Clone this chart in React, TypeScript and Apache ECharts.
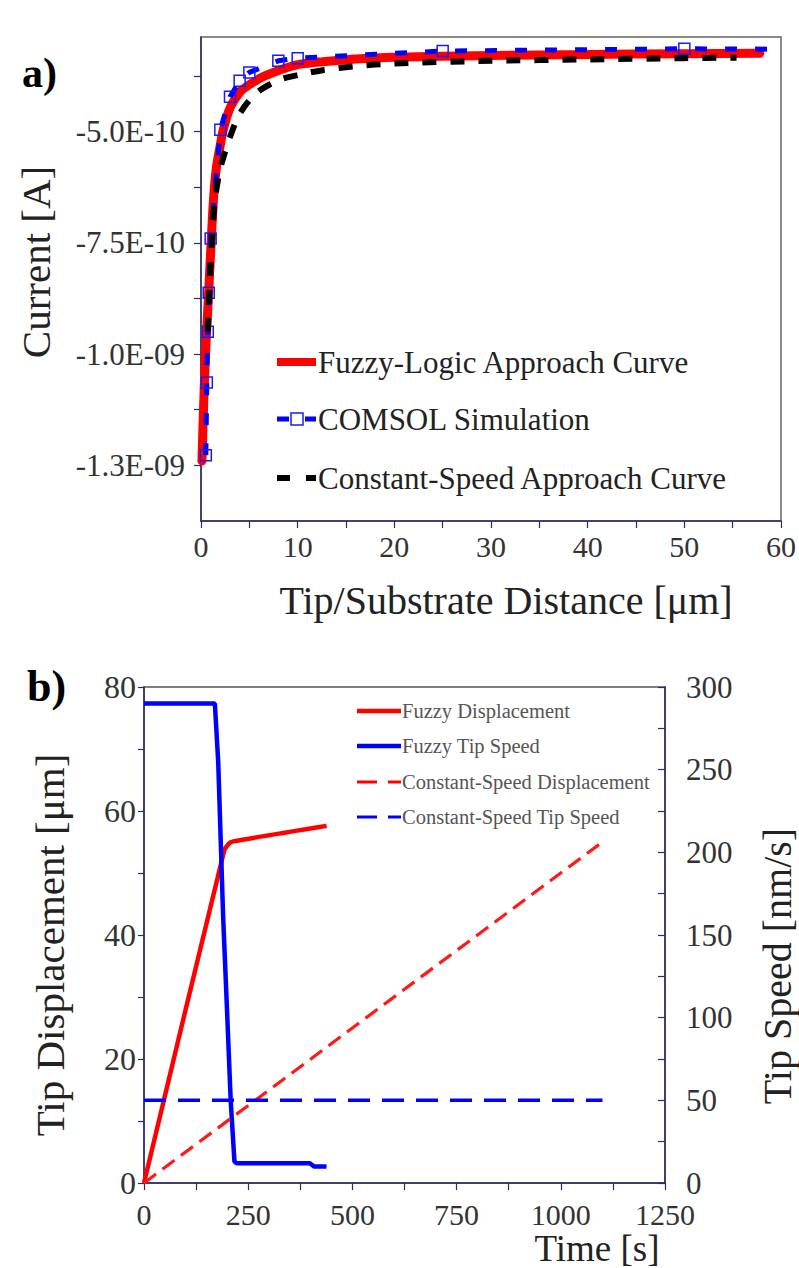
import React, { useEffect, useRef } from 'react';
import * as echarts from 'echarts';

// ---------- Panel a) data ----------
const fuzzyDist = [0.1, 0.25, 0.41, 0.6, 0.75, 1.0, 1.3, 1.6, 2.0, 2.3, 3.0, 4.0, 4.7, 6.4, 8.1, 9.9, 12.6, 16, 20, 30, 40, 50, 57.8];
const fuzzyCurrent = [-12.4e-10, -11.3e-10, -10.3e-10, -9.4e-10, -8.8e-10, -7.7e-10, -6.5e-10, -5.8e-10, -5.3e-10, -4.96e-10, -4.47e-10, -4.12e-10, -3.99e-10, -3.77e-10, -3.62e-10, -3.5e-10, -3.43e-10, -3.37e-10, -3.33e-10, -3.29e-10, -3.27e-10, -3.25e-10, -3.24e-10];

const comsolDist = [0.5, 0.6, 0.7, 0.8, 1.0, 2, 3, 4, 5, 8, 10, 25, 50];
const comsolCurrent = [-12.27e-10, -10.64e-10, -9.5e-10, -8.62e-10, -7.4e-10, -4.96e-10, -4.22e-10, -3.86e-10, -3.67e-10, -3.41e-10, -3.35e-10, -3.19e-10, -3.14e-10];
const comsolTailDist = 61;
const comsolTailCurrent = -3.15e-10;

const constDist = [0.7, 0.85, 1.0, 1.2, 1.44, 1.96, 2.5, 3.0, 4.0, 5.7, 8.1, 10.9, 12.6, 16, 20, 30, 40, 50, 55.4];
const constCurrent = [-9.5e-10, -8.7e-10, -8.0e-10, -7.2e-10, -6.54e-10, -5.86e-10, -5.45e-10, -5.12e-10, -4.6e-10, -4.14e-10, -3.84e-10, -3.69e-10, -3.62e-10, -3.53e-10, -3.47e-10, -3.41e-10, -3.38e-10, -3.35e-10, -3.34e-10];

const topYTickValues = [-3.75e-10, -5e-10, -6.25e-10, -7.5e-10, -8.75e-10, -1e-9, -1.125e-9, -1.25e-9];
const topYLabelValues = [-5e-10, -7.5e-10, -1e-9, -1.25e-9];
const topYLabelTexts = ['-5.0E-10', '-7.5E-10', '-1.0E-09', '-1.3E-09'];

const topLegend = ['Fuzzy-Logic Approach Curve', 'COMSOL Simulation', 'Constant-Speed Approach Curve'];

// ---------- Panel b) data ----------
const fuzzyDispTime = [0, 192, 203, 214, 438];
const fuzzyDisp = [0, 53.5, 54.7, 55.1, 57.6];

const fuzzySpeedTime = [0, 170, 178, 190, 198, 208, 217, 222, 398, 408, 438];
const fuzzySpeed = [290, 290, 255, 160, 112, 50, 13, 12, 12, 10, 10];

const constDispTime = [0, 1100];
const constDisp = [0, 55];

const constSpeedTime = [0, 1100];
const constSpeed = [50, 50];

const bottomLegend = ['Fuzzy Displacement', 'Fuzzy Tip Speed', 'Constant-Speed Displacement', 'Constant-Speed Tip Speed'];

const FONT = "'Liberation Serif', 'Times New Roman', serif";
const NAVY = '#2b2b6b';
const TXT = '#333';
const RED = '#ff0000';
const BLUE = '#0000ff';

const zip = (a: number[], b: number[]) => a.map((x, i) => [x, b[i]]);

export default function App() {
  const ref = useRef<HTMLDivElement>(null);

  useEffect(() => {
    if (!ref.current) return;
    const chart = echarts.init(ref.current, null, { renderer: 'svg' });

    const axisCommon = (color: string) => ({
      axisLine: { show: true, onZero: false, lineStyle: { color, width: 1.5 } },
      splitLine: { show: false },
    });
    const tick = (len: number, inside = false) => ({ show: true, inside, length: len, lineStyle: { color: NAVY, width: 1.2 } });
    const minor = (len: number) => ({ show: true, splitNumber: 2, length: len, lineStyle: { color: NAVY, width: 1.2 } });

    // manual legends
    const seg = (x1: number, x2: number, y: number, color: string, width: number) => ({
      type: 'line', silent: true, shape: { x1, y1: y, x2, y2: y }, style: { stroke: color, lineWidth: width },
    });
    const legText = (x: number, y: number, text: string, size: number, color: string) => ({
      type: 'text', x, y, style: { text, font: `${size}px ${FONT}`, fill: color, verticalAlign: 'middle', align: 'left' },
    });
    const ty = [362, 419, 478];
    const by = [711, 746, 782, 817];
    const legendGraphics = [
      seg(277, 316, ty[0], RED, 8),
      legText(318, ty[0], topLegend[0], 31, '#222'),
      seg(277, 289, ty[1], BLUE, 5),
      { type: 'rect', silent: true, shape: { x: 291, y: ty[1] - 6, width: 12, height: 12 }, style: { fill: '#fff', stroke: '#1a1aff', lineWidth: 1.5 } },
      seg(305, 316, ty[1], BLUE, 5),
      legText(318, ty[1], topLegend[1], 31, '#222'),
      seg(277, 290, ty[2], '#000', 6),
      seg(306, 316, ty[2], '#000', 6),
      legText(318, ty[2], topLegend[2], 31, '#222'),
      seg(357, 401, by[0], RED, 4.5),
      legText(402, by[0], bottomLegend[0], 20.5, '#555'),
      seg(357, 401, by[1], BLUE, 4.5),
      legText(402, by[1], bottomLegend[1], 20.5, '#555'),
      seg(357, 377, by[2], RED, 3),
      seg(388, 401, by[2], RED, 3),
      legText(402, by[2], bottomLegend[2], 20.5, '#555'),
      seg(357, 377, by[3], BLUE, 3),
      seg(388, 401, by[3], BLUE, 3),
      legText(402, by[3], bottomLegend[3], 20.5, '#555'),
    ];

    const option: any = {
      animation: false,
      backgroundColor: '#ffffff',
      grid: [
        { left: 201, top: 37, width: 581, height: 484, show: true, borderColor: '#666', borderWidth: 1.5, backgroundColor: 'transparent' },
        { left: 144, top: 687, width: 521, height: 496, show: true, borderColor: '#555', borderWidth: 1.5, backgroundColor: 'transparent' },
      ],
      xAxis: [
        {
          gridIndex: 0, type: 'value', min: 0, max: 60, interval: 10,
          ...axisCommon(NAVY),
          axisTick: tick(7), minorTick: minor(7),
          axisLabel: { fontFamily: FONT, fontSize: 30, color: TXT, margin: 10 },
        },
        {
          gridIndex: 1, type: 'value', min: 0, max: 1250, interval: 250,
          ...axisCommon(NAVY),
          axisTick: tick(7), minorTick: minor(7),
          axisLabel: { fontFamily: FONT, fontSize: 30, color: TXT, margin: 16, formatter: (v: number) => String(v) },
        },
      ],
      yAxis: [
        {
          gridIndex: 0, type: 'value', min: -1.375e-9, max: -2.875e-10,
          ...axisCommon(NAVY),
          axisTick: { ...tick(7), customValues: topYTickValues },
          axisLabel: {
            fontFamily: FONT, fontSize: 31, color: TXT, margin: 16,
            customValues: topYLabelValues,
            formatter: (v: number) => {
              const i = topYLabelValues.findIndex((t) => Math.abs(t - v) < 1e-13);
              return i >= 0 ? topYLabelTexts[i] : '';
            },
          },
        },
        {
          gridIndex: 1, type: 'value', min: 0, max: 80, interval: 20, position: 'left',
          ...axisCommon(NAVY),
          axisTick: tick(6), minorTick: minor(6),
          axisLabel: { fontFamily: FONT, fontSize: 32, color: TXT, margin: 8 },
        },
        {
          gridIndex: 1, type: 'value', min: 0, max: 300, interval: 50, position: 'right',
          ...axisCommon(NAVY),
          axisTick: tick(7, true), minorTick: minor(7),
          axisLabel: { fontFamily: FONT, fontSize: 31, color: TXT, margin: 21 },
        },
      ],
      series: [
        {
          name: topLegend[0], type: 'line', xAxisIndex: 0, yAxisIndex: 0,
          data: zip(fuzzyDist, fuzzyCurrent), smooth: 0.3, symbol: 'none', z: 2,
          lineStyle: { color: RED, width: 9, cap: 'round' },
        },
        {
          name: topLegend[1], type: 'line', xAxisIndex: 0, yAxisIndex: 0,
          data: [
            ...zip(comsolDist, comsolCurrent),
            { value: [comsolTailDist, comsolTailCurrent], symbol: 'none' },
          ],
          clip: false, z: 3,
          symbol: 'rect', symbolSize: 11, showSymbol: true,
          lineStyle: { color: BLUE, width: 5, type: [12, 18] },
          itemStyle: { color: 'rgba(255,255,255,0)', borderColor: '#1a1aff', borderWidth: 1.5 },
        },
        {
          name: topLegend[2], type: 'line', xAxisIndex: 0, yAxisIndex: 0,
          data: zip(constDist, constCurrent), smooth: 0.3, symbol: 'none', z: 4,
          lineStyle: { color: '#000000', width: 6, type: [14, 14] },
        },
        {
          name: bottomLegend[0], type: 'line', xAxisIndex: 1, yAxisIndex: 1,
          data: zip(fuzzyDispTime, fuzzyDisp), symbol: 'none', smooth: 0.2,
          lineStyle: { color: RED, width: 4.5 },
        },
        {
          name: bottomLegend[1], type: 'line', xAxisIndex: 1, yAxisIndex: 2,
          data: zip(fuzzySpeedTime, fuzzySpeed), symbol: 'none',
          lineStyle: { color: BLUE, width: 4.5 },
        },
        {
          name: bottomLegend[2], type: 'line', xAxisIndex: 1, yAxisIndex: 1,
          data: zip(constDispTime, constDisp), symbol: 'none',
          lineStyle: { color: '#ff1a1a', width: 3.2, type: [15, 8] },
        },
        {
          name: bottomLegend[3], type: 'line', xAxisIndex: 1, yAxisIndex: 2,
          data: zip(constSpeedTime, constSpeed), symbol: 'none',
          lineStyle: { color: BLUE, width: 3.5, type: [22, 12] },
        },
      ],
      graphic: [
        { type: 'text', left: 22, top: 52, style: { text: 'a)', font: `bold 42px ${FONT}`, fill: '#000' } },
        { type: 'text', x: 36, y: 262, rotation: Math.PI / 2, style: { text: 'Current [A]', font: `41px ${FONT}`, fill: '#222', align: 'center', verticalAlign: 'middle' } },
        { type: 'text', x: 506, y: 600, style: { text: 'Tip/Substrate Distance [μm]', font: `40px ${FONT}`, fill: '#222', align: 'center', verticalAlign: 'middle' } },
        { type: 'text', left: 27, top: 664, style: { text: 'b)', font: `bold 44px ${FONT}`, fill: '#000' } },
        { type: 'text', x: 50, y: 945, rotation: Math.PI / 2, style: { text: 'Tip Displacement [μm]', font: `41px ${FONT}`, fill: '#222', align: 'center', verticalAlign: 'middle' } },
        { type: 'text', x: 777, y: 966, rotation: Math.PI / 2, style: { text: 'Tip Speed [nm/s]', font: `40px ${FONT}`, fill: '#222', align: 'center', verticalAlign: 'middle' } },
        { type: 'text', x: 597, y: 1248, style: { text: 'Time [s]', font: `37px ${FONT}`, fill: '#222', align: 'center', verticalAlign: 'middle' } },
        ...legendGraphics,
      ],
    };

    chart.setOption(option);
    return () => chart.dispose();
  }, []);

  return <div ref={ref} style={{ position: 'absolute', left: 0, top: 0, width: 799, height: 1268 }} />;
}
